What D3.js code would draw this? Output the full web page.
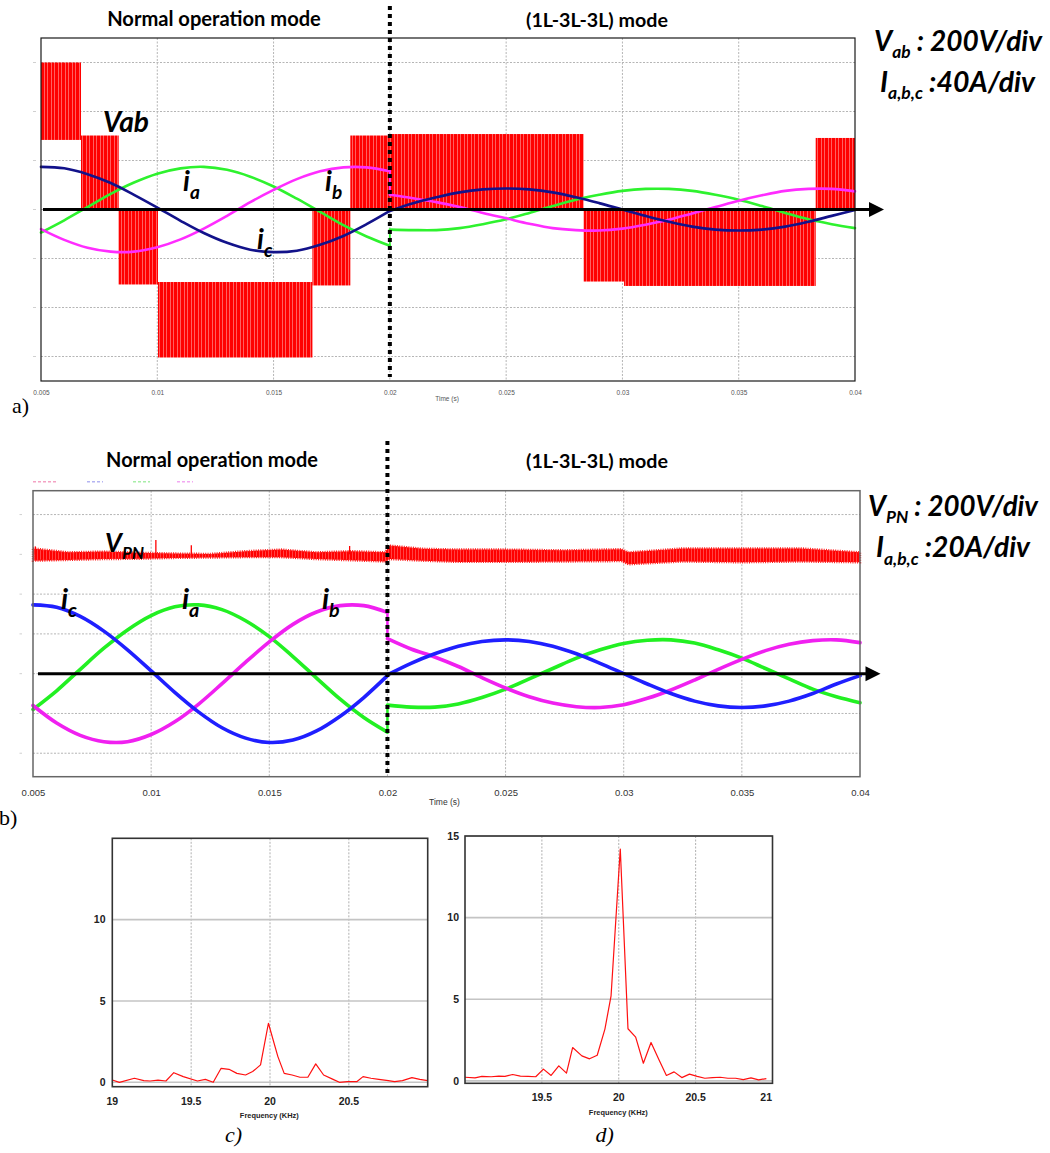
<!DOCTYPE html>
<html><head><meta charset="utf-8">
<script src="https://cdn.jsdelivr.net/npm/d3@7"></script>
<style>body{margin:0;background:#fff}svg{display:block}</style>
</head><body>
<svg id="c" width="1050" height="1153"></svg>
<script>
// ---------------- DATA ----------------
const timeTicks = [0.005, 0.01, 0.015, 0.02, 0.025, 0.03, 0.035, 0.04];
const timeTickLabels = ["0.005", "0.01", "0.015", "0.02", "0.025", "0.03", "0.035", "0.04"];
const divTicksA = [-3, -2, -1, 0, 1, 2, 3];
const divTicksB = [-2, -1, 0, 1, 2, 3, 4];
const modeLabels = ["Normal operation mode", "(1L-3L-3L) mode"];

const tNormal = [0.005, 0.006, 0.007, 0.008, 0.009, 0.010, 0.011, 0.012, 0.013, 0.014, 0.015, 0.016, 0.017, 0.018, 0.019, 0.020];
const tFault = [0.020, 0.021, 0.022, 0.023, 0.024, 0.025, 0.026, 0.027, 0.028, 0.029, 0.030, 0.031, 0.032, 0.033, 0.034, 0.035, 0.036, 0.037, 0.038, 0.039, 0.040];

// panel a currents (divisions, 40 A/div)
const iaA_normal = [-0.47, -0.22, 0.05, 0.32, 0.55, 0.73, 0.84, 0.87, 0.81, 0.67, 0.47, 0.22, -0.05, -0.32, -0.55, -0.74];
const ibA_normal = [-0.40, -0.62, -0.78, -0.86, -0.86, -0.77, -0.61, -0.39, -0.13, 0.15, 0.40, 0.62, 0.78, 0.86, 0.86, 0.78];
const icA_normal = [0.87, 0.84, 0.72, 0.54, 0.30, 0.04, -0.23, -0.48, -0.68, -0.82, -0.87, -0.84, -0.72, -0.54, -0.30, -0.03];
const iaA_fault = [-0.41, -0.42, -0.42, -0.38, -0.30, -0.20, -0.07, 0.07, 0.20, 0.30, 0.38, 0.42, 0.42, 0.38, 0.30, 0.20, 0.07, -0.07, -0.20, -0.30, -0.38];
const ibA_fault = [0.30, 0.23, 0.15, 0.05, -0.07, -0.18, -0.29, -0.38, -0.42, -0.43, -0.39, -0.31, -0.21, -0.08, 0.05, 0.18, 0.29, 0.38, 0.42, 0.42, 0.37];
const icA_fault = [-0.03, 0.13, 0.25, 0.35, 0.41, 0.43, 0.41, 0.35, 0.25, 0.13, 0.0, -0.13, -0.25, -0.35, -0.41, -0.43, -0.41, -0.35, -0.25, -0.13, -0.01];

// panel a line voltage Vab (divisions, 200 V/div): PWM blocks between two levels
const vabStart = [0.005, 0.00672, 0.00834, 0.01003, 0.01667, 0.0183, 0.02, 0.02833, 0.03007, 0.03831];
const vabEnd = [0.00672, 0.00834, 0.01003, 0.01667, 0.0183, 0.02, 0.02833, 0.03007, 0.03831, 0.04];
const vabHigh = [3.0, 1.51, 0, -1.48, 0, 1.51, 1.54, 0, 0, 1.46];
const vabLow = [1.42, 0, -1.53, -3.02, -1.55, 0, 0, -1.47, -1.56, 0];

// panel b currents (divisions, 20 A/div)
const iaB_normal = [-0.90, -0.43, 0.11, 0.64, 1.10, 1.46, 1.68, 1.73, 1.61, 1.33, 0.93, 0.43, -0.11, -0.64, -1.10, -1.47];
const ibB_normal = [-0.80, -1.24, -1.55, -1.71, -1.71, -1.53, -1.21, -0.77, -0.25, 0.29, 0.80, 1.24, 1.55, 1.71, 1.71, 1.54];
const icB_normal = [1.73, 1.67, 1.44, 1.07, 0.60, 0.07, -0.47, -0.96, -1.36, -1.62, -1.73, -1.67, -1.44, -1.07, -0.60, -0.05];
const iaB_fault = [-0.79, -0.84, -0.84, -0.76, -0.60, -0.39, -0.13, 0.13, 0.39, 0.60, 0.76, 0.84, 0.85, 0.77, 0.60, 0.39, 0.13, -0.13, -0.39, -0.58, -0.73];
const ibB_fault = [0.88, 0.62, 0.42, 0.18, -0.10, -0.36, -0.58, -0.74, -0.83, -0.85, -0.78, -0.62, -0.41, -0.16, 0.11, 0.36, 0.58, 0.74, 0.83, 0.85, 0.78];
const icB_fault = [-0.03, 0.26, 0.50, 0.69, 0.81, 0.85, 0.81, 0.69, 0.50, 0.26, 0.0, -0.26, -0.50, -0.69, -0.81, -0.85, -0.81, -0.69, -0.50, -0.26, -0.05];

// panel b DC-link voltage VPN band (divisions, 200 V/div)
const vpnTime = [0.005, 0.0065, 0.008, 0.0095, 0.011, 0.0125, 0.014, 0.0155, 0.017, 0.0185, 0.0199, 0.0201, 0.0215, 0.023, 0.025, 0.0275, 0.0299, 0.0302, 0.0325, 0.035, 0.0375, 0.04];
const vpnUpper = [3.15, 3.05, 3.07, 3.04, 3.02, 3.01, 3.08, 3.12, 3.05, 3.08, 3.05, 3.22, 3.14, 3.12, 3.12, 3.10, 3.13, 3.05, 3.15, 3.15, 3.15, 3.05];
const vpnLower = [2.84, 2.86, 2.88, 2.89, 2.91, 2.92, 2.93, 2.93, 2.88, 2.85, 2.82, 2.88, 2.84, 2.81, 2.81, 2.82, 2.83, 2.75, 2.82, 2.80, 2.82, 2.80];
const vpnSpikeTime = [0.0051, 0.0102, 0.0117, 0.0184];
const vpnSpikeTop = [3.20, 3.36, 3.23, 3.21];

// spectra
const freqC = [19.0, 19.045, 19.14, 19.2, 19.24, 19.29, 19.34, 19.39, 19.45, 19.54, 19.59, 19.64, 19.69, 19.74, 19.79, 19.845, 19.89, 19.94, 19.99, 20.05, 20.09, 20.14, 20.19, 20.24, 20.29, 20.34, 20.40, 20.44, 20.49, 20.55, 20.59, 20.64, 20.69, 20.75, 20.79, 20.84, 20.90, 20.95, 21.0];
const magC = [0.14, 0.0, 0.25, 0.10, 0.08, 0.14, 0.08, 0.59, 0.35, 0.08, 0.18, 0.0, 0.86, 0.80, 0.55, 0.45, 0.66, 1.07, 3.63, 1.58, 0.55, 0.45, 0.31, 0.31, 1.13, 0.45, 0.18, 0.0, 0.04, 0.04, 0.35, 0.25, 0.18, 0.10, 0.04, 0.10, 0.29, 0.18, 0.10];
const freqD = [19.0, 19.065, 19.11, 19.17, 19.22, 19.26, 19.31, 19.36, 19.41, 19.46, 19.51, 19.56, 19.61, 19.66, 19.70, 19.76, 19.81, 19.86, 19.91, 19.95, 20.01, 20.06, 20.11, 20.16, 20.21, 20.26, 20.31, 20.36, 20.41, 20.46, 20.51, 20.56, 20.61, 20.66, 20.71, 20.76, 20.81, 20.86, 20.91, 20.96];
const magD = [0.22, 0.18, 0.27, 0.25, 0.29, 0.27, 0.39, 0.29, 0.27, 0.25, 0.72, 0.33, 0.92, 0.47, 2.04, 1.53, 1.35, 1.57, 3.17, 5.21, 14.2, 3.19, 2.68, 1.08, 2.35, 1.33, 0.33, 0.55, 0.20, 0.41, 0.27, 0.16, 0.20, 0.22, 0.16, 0.16, 0.08, 0.18, 0.06, 0.14];
const freqTicksC = [19, 19.5, 20, 20.5];
const freqTicksD = [19.5, 20, 20.5, 21];
const magTicksC = [0, 5, 10];
const magTicksD = [0, 5, 10, 15];

// ---------------- DRAWING ----------------
const F_UI = "Lato, 'Open Sans', 'DejaVu Sans', sans-serif";
const F_AX = "'Liberation Sans', Arial, sans-serif";
const F_NAR = "'Liberation Sans Narrow', 'Arial Narrow', 'Liberation Sans', sans-serif";
const F_SERIF = "'Liberation Serif', 'Times New Roman', serif";

const svg = d3.select("#c");
svg.append("rect").attr("width", 1050).attr("height", 1153).attr("fill", "#fff");
const defs = svg.append("defs");
function makePattern(id, w, stripes) {
  const p = defs.append("pattern").attr("id", id).attr("patternUnits", "userSpaceOnUse")
    .attr("width", w).attr("height", 10);
  p.append("rect").attr("width", w).attr("height", 10).attr("fill", "#ff0000");
  stripes.forEach(s => p.append("rect").attr("x", s[0]).attr("width", s[1]).attr("height", 10).attr("fill", s[2]));
}
makePattern("pwm", 7, [[2.2, 0.7, "#ff8a8a"], [5.0, 0.5, "#ffbcbc"]]);
makePattern("vpn", 3, [[1.2, 0.6, "#ff7070"]]);

function fitText(sel, width) {
  const w = sel.node().getComputedTextLength();
  const fs = parseFloat(sel.attr("font-size"));
  if (w > 0) sel.attr("font-size", fs * width / w);
  return sel;
}

function zip(ts, vs) { return ts.map((t, i) => [t, vs[i]]); }

function subText(g, x, y, parts, size, width, anchor, subScale) {
  const t = g.append("text").attr("x", x).attr("y", y).attr("font-family", F_UI)
    .attr("font-weight", "bold").attr("font-style", "italic").attr("font-size", size)
    .attr("text-anchor", anchor || "start").attr("fill", "#000");
  let shifted = false;
  parts.forEach(p => {
    const ts = t.append("tspan").text(p.text);
    if (p.sub) { ts.style("font-size", (subScale || 62) + "%").attr("dy", "0.42em"); shifted = true; }
    else if (shifted) { ts.attr("dy", "-0.26em"); shifted = false; }
  });
  if (width) fitText(t, width);
  return t;
}

function timePanel(o) {
  const g = svg.append("g");
  const x = d3.scaleLinear().domain([0.005, 0.04]).range(o.xr);
  const y = d3.scaleLinear().domain(o.yd).range(o.yr);
  // grid
  g.selectAll(".vg").data(timeTicks.slice(1, -1)).join("line")
    .attr("x1", d => x(d)).attr("x2", d => x(d)).attr("y1", o.yr[1]).attr("y2", o.yr[0])
    .attr("stroke", "#b5b5b5").attr("stroke-width", 1).attr("stroke-dasharray", "2,1.5");
  g.selectAll(".hg").data(o.divTicks).join("line")
    .attr("x1", o.xr[0]).attr("x2", o.xr[1]).attr("y1", d => y(d)).attr("y2", d => y(d))
    .attr("stroke", "#b5b5b5").attr("stroke-width", 1).attr("stroke-dasharray", "2,1.5");
  // faint y ticks
  g.selectAll(".yt").data(o.divTicks).join("line")
    .attr("x1", o.ytx[0]).attr("x2", o.ytx[1]).attr("y1", d => y(d)).attr("y2", d => y(d))
    .attr("stroke", "#d0d0d0").attr("stroke-width", 1);
  o.under(g, x, y);
  const line = d3.line().x(d => x(d[0])).y(d => y(d[1])).curve(d3.curveCatmullRom.alpha(0.5));
  o.currents.forEach(c => {
    g.append("path").attr("d", line(zip(tNormal, c.n))).attr("fill", "none")
      .attr("stroke", c.color).attr("stroke-width", o.lw).attr("stroke-linecap", "round");
    g.append("line").attr("x1", x(tFault[0])).attr("x2", x(tFault[0]))
      .attr("y1", y(c.n[c.n.length - 1])).attr("y2", y(c.f[0]))
      .attr("stroke", c.color).attr("stroke-width", o.lw * 0.7);
    g.append("path").attr("d", line(zip(tFault, c.f))).attr("fill", "none")
      .attr("stroke", c.color).attr("stroke-width", o.lw).attr("stroke-linecap", "round");
  });
  // border
  g.append("rect").attr("x", o.xr[0]).attr("y", o.yr[1]).attr("width", o.xr[1] - o.xr[0])
    .attr("height", o.yr[0] - o.yr[1]).attr("fill", "none").attr("stroke", o.borderColor).attr("stroke-width", o.borderW);
  // zero arrow
  const y0 = y(0);
  g.append("line").attr("x1", o.arrow[0]).attr("x2", o.arrow[1] - 8).attr("y1", y0).attr("y2", y0)
    .attr("stroke", "#000").attr("stroke-width", 3);
  g.append("path").attr("d", `M${o.arrow[1] - 15},${y0 - 7.5}L${o.arrow[1]},${y0}L${o.arrow[1] - 15},${y0 + 7.5}Z`).attr("fill", "#000");
  // dotted mode boundary
  g.append("line").attr("x1", x(0.02)).attr("x2", x(0.02)).attr("y1", o.dot[0]).attr("y2", o.dot[1])
    .attr("stroke", "#000").attr("stroke-width", 4).attr("stroke-dasharray", "4,4");
  // axis labels
  const ax = g.append("g").attr("transform", `translate(0,${o.tickY})`)
    .call(d3.axisBottom(x).tickValues(timeTicks).tickFormat((d, i) => timeTickLabels[i]).tickSize(0));
  ax.select(".domain").remove();
  ax.selectAll("text").attr("font-family", F_AX).attr("font-size", o.tickFs).attr("fill", o.tickColor).attr("dy", 0);
  g.append("text").attr("x", o.timeLab[0]).attr("y", o.timeLab[1]).attr("text-anchor", "middle")
    .attr("font-family", F_AX).attr("font-size", o.timeFs).attr("fill", o.tickColor).text("Time (s)");
  // mode titles
  fitText(g.append("text").attr("x", o.t1[0]).attr("y", o.t1[1]).attr("text-anchor", "middle")
    .attr("font-family", F_UI).attr("font-weight", "bold").attr("font-size", 18).text(modeLabels[0]), o.t1[2]);
  fitText(g.append("text").attr("x", o.t2[0]).attr("y", o.t2[1]).attr("text-anchor", "middle")
    .attr("font-family", F_UI).attr("font-weight", "bold").attr("font-size", 18).text(modeLabels[1]), o.t2[2]);
  return { g, x, y };
}

// ---- Panel a ----
const pa = timePanel({
  xr: [41, 855], yd: [-3.5, 3.5], yr: [381, 38], divTicks: divTicksA, ytx: [33, 36],
  lw: 2.6, borderColor: "#1a1a1a", borderW: 1.2, arrow: [43, 884], dot: [6, 377],
  tickY: 391.5, tickFs: 6.5, tickColor: "#555", timeLab: [447, 401], timeFs: 6.5,
  t1: [214, 26, 214], t2: [597, 26.5, 142],
  currents: [
    { n: iaA_normal, f: iaA_fault, color: "#2ef22e" },
    { n: ibA_normal, f: ibA_fault, color: "#ff2cff" },
    { n: icA_normal, f: icA_fault, color: "#12128a" }
  ],
  under: (g, x, y) => {
    g.selectAll(".vab").data(vabStart).join("rect")
      .attr("x", (d, i) => x(d)).attr("width", (d, i) => x(vabEnd[i]) - x(d))
      .attr("y", (d, i) => y(vabHigh[i])).attr("height", (d, i) => y(vabLow[i]) - y(vabHigh[i]))
      .attr("fill", "url(#pwm)");
  }
});

subText(svg, 103, 131.7, [{ text: "Vab" }], 24, 46);
subText(svg, 183, 191, [{ text: "i" }, { text: "a", sub: true }], 28, null, null, 68);
subText(svg, 325, 191, [{ text: "i" }, { text: "b", sub: true }], 28, null, null, 68);
subText(svg, 257, 249, [{ text: "i" }, { text: "c", sub: true }], 28, null, null, 68);
subText(svg, 874, 50.7, [{ text: "V" }, { text: "ab", sub: true }, { text: " : 200V/div" }], 24, 168);
subText(svg, 880, 91.7, [{ text: "I" }, { text: "a,b,c", sub: true }, { text: " :40A/div" }], 24, 155);
svg.append("text").attr("x", 12).attr("y", 413).attr("font-family", F_SERIF).attr("font-size", 22).text("a)");

// ---- Panel b ----
const pb = timePanel({
  xr: [33, 860], yd: [-2.59, 4.6], yr: [776.7, 490.7], divTicks: divTicksB, ytx: [19.5, 22],
  lw: 3.6, borderColor: "#666", borderW: 1.5, arrow: [38, 880.5], dot: [441, 777],
  tickY: 792.5, tickFs: 9.5, tickColor: "#333", timeLab: [444.5, 804.5], timeFs: 8.5,
  t1: [212, 467.3, 212], t2: [597, 468.3, 142],
  currents: [
    { n: iaB_normal, f: iaB_fault, color: "#22f022" },
    { n: ibB_normal, f: ibB_fault, color: "#f020f0" },
    { n: icB_normal, f: icB_fault, color: "#1f1fff" }
  ],
  under: (g, x, y) => {
    const band = d3.area().x((d, i) => x(vpnTime[i])).y0((d, i) => y(vpnLower[i])).y1((d, i) => y(vpnUpper[i]));
    g.append("path").attr("d", band(vpnTime)).attr("fill", "url(#vpn)")
      .attr("stroke", "#ff1a1a").attr("stroke-width", 2.4).attr("stroke-dasharray", "1,1.3");
    g.selectAll(".spk").data(vpnSpikeTime).join("line")
      .attr("x1", d => x(d)).attr("x2", d => x(d)).attr("y1", y(3.0)).attr("y2", (d, i) => y(vpnSpikeTop[i]))
      .attr("stroke", "#ff0000").attr("stroke-width", 1.3);
  }
});
// faint legend remnants above panel b
[[33, 57, "#f4a3c4"], [87, 103, "#b4b4f2"], [133, 150, "#a8eea8"], [177, 193, "#f2a8f2"]].forEach(s =>
  svg.append("line").attr("x1", s[0]).attr("x2", s[1]).attr("y1", 481.7).attr("y2", 481.7)
    .attr("stroke", s[2]).attr("stroke-width", 1.4).attr("stroke-dasharray", "3,2"));

subText(svg, 105, 551.7, [{ text: "V" }, { text: "PN", sub: true }], 26, null, null, 66);
subText(svg, 61, 609, [{ text: "i" }, { text: "c", sub: true }], 29, null, null, 68);
subText(svg, 182, 609, [{ text: "i" }, { text: "a", sub: true }], 29, null, null, 68);
subText(svg, 322, 609, [{ text: "i" }, { text: "b", sub: true }], 29, null, null, 68);
subText(svg, 868, 516, [{ text: "V" }, { text: "PN", sub: true }, { text: " : 200V/div" }], 24, 170);
subText(svg, 876, 557.3, [{ text: "I" }, { text: "a,b,c", sub: true }, { text: " :20A/div" }], 24, 154);
svg.append("text").attr("x", -1).attr("y", 825).attr("font-family", F_SERIF).attr("font-size", 22).text("b)");

// ---- Spectrum panels ----
function spectrum(o) {
  const g = svg.append("g");
  const x = d3.scaleLinear().domain([19, 21]).range(o.xr);
  const y = d3.scaleLinear().domain(o.yd).range(o.yr);
  g.selectAll(".vg").data([19.5, 20, 20.5]).join("line")
    .attr("x1", d => x(d)).attr("x2", d => x(d)).attr("y1", o.yr[1]).attr("y2", o.yr[0])
    .attr("stroke", "#b0b0b0").attr("stroke-width", 1).attr("stroke-dasharray", "2,1.5");
  g.selectAll(".hg").data(o.yTicks).join("line")
    .attr("x1", o.xr[0]).attr("x2", o.xr[1]).attr("y1", d => y(d)).attr("y2", d => y(d))
    .attr("stroke", "#c4c4c4").attr("stroke-width", 1.6);
  g.append("path").attr("d", d3.line().x((d, i) => x(o.f[i])).y((d, i) => y(o.m[i]))(o.f))
    .attr("fill", "none").attr("stroke", "#ff1010").attr("stroke-width", 1.2).attr("stroke-linejoin", "round");
  g.append("rect").attr("x", o.xr[0]).attr("y", o.yr[1]).attr("width", o.xr[1] - o.xr[0])
    .attr("height", o.yr[0] - o.yr[1]).attr("fill", "none").attr("stroke", "#333").attr("stroke-width", 1.6);
  g.selectAll(".xl").data(o.xTicks).join("text")
    .attr("x", d => d === 21 ? x(d) - 0.5 : x(d)).attr("y", o.xLabY).attr("dy", "0.35em")
    .attr("text-anchor", d => d === 21 ? "end" : "middle")
    .attr("font-family", F_NAR).attr("font-weight", "bold").attr("font-size", 10.5).attr("fill", "#222")
    .text(d => d);
  g.selectAll(".yl").data(o.yTicks).join("text")
    .attr("x", o.yLabX).attr("y", d => y(d)).attr("dy", "0.35em").attr("text-anchor", "end")
    .attr("font-family", F_NAR).attr("font-weight", "bold").attr("font-size", 10.5).attr("fill", "#222")
    .text(d => d);
  fitText(g.append("text").attr("x", o.fl[0]).attr("y", o.fl[1]).attr("dy", "0.35em").attr("text-anchor", "middle")
    .attr("font-family", F_NAR).attr("font-weight", "bold").attr("font-size", 10).attr("fill", "#222")
    .text("Frequency (KHz)"), 59);
  g.append("text").attr("x", o.pl[0]).attr("y", o.pl[1]).attr("font-family", F_SERIF).attr("font-style", "italic")
    .attr("font-size", 22).text(o.plabel);
}
spectrum({ xr: [112.3, 427.7], yd: [-0.27, 15], yr: [1086.7, 838.3], f: freqC, m: magC,
  xTicks: freqTicksC, yTicks: magTicksC, xLabY: 1101, yLabX: 105.5, fl: [269.3, 1115.7], pl: [225, 1142], plabel: "c)" });
spectrum({ xr: [465, 772.5], yd: [-0.15, 15], yr: [1083.3, 836], f: freqD, m: magD,
  xTicks: freqTicksD, yTicks: magTicksD, xLabY: 1097.3, yLabX: 459, fl: [618.3, 1112.7], pl: [595.5, 1142], plabel: "d)" });
</script>
</body></html>
